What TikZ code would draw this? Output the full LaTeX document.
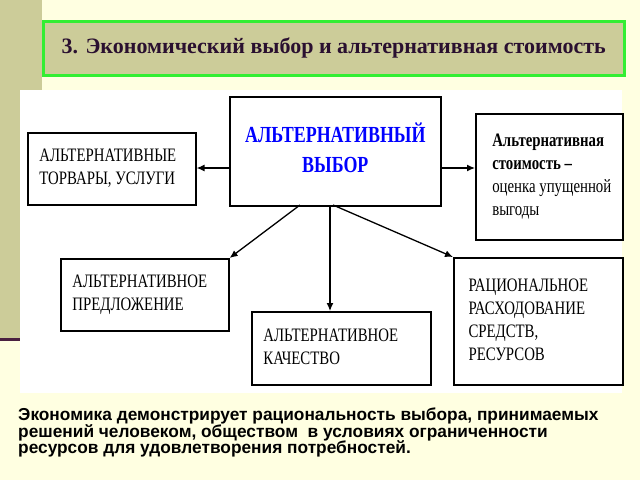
\documentclass[tikz,border=0pt]{standalone}
\usepackage{fontspec}
\setmainfont{Liberation Serif}
\setsansfont{Liberation Sans}
\newfontfamily\narrowserif[FakeStretch=0.78]{Liberation Serif}
\usetikzlibrary{arrows.meta}
\definecolor{cream}{HTML}{FFFFE1}
\definecolor{khaki}{HTML}{CCCC99}
\definecolor{titlegreen}{HTML}{33EE33}
\definecolor{titletext}{HTML}{2A1030}
\definecolor{stripe}{HTML}{4A2040}
\begin{document}
\begin{tikzpicture}[
    x=1pt, y=-1pt,
    arr/.style={line width=1.3pt, black, -{Latex[length=8pt,width=7pt]}},
    box/.style={draw=black, line width=1.6pt, fill=white, anchor=north west, inner sep=0pt,
        font=\narrowserif\fontsize{19}{23}\selectfont, align=left},
  ]
  \useasboundingbox (0,0) rectangle (640,480);
  \fill[cream] (0,0) rectangle (640,480);
  \fill[khaki] (0,0) rectangle (42,338);
  \fill[stripe] (0,338) rectangle (20,341);
  \node[draw=titlegreen, line width=2.5pt, fill=khaki, anchor=north west,
      minimum width=581pt, minimum height=54pt,
      font=\bfseries\fontsize{22}{26}\selectfont, text=titletext] (title) at (42,20)
      {3. Экономический выбор и альтернативная стоимость};
  \fill[white] (20,90) rectangle (622,393);

  \node[box, minimum width=211pt, minimum height=109pt, align=center,
      text=blue, font=\narrowserif\bfseries\fontsize{23}{30}\selectfont] (choice) at (229,96)
      {\raisebox{20pt}{\begin{tabular}{@{}c@{}}АЛЬТЕРНАТИВНЫЙ\\ВЫБОР\end{tabular}}};
  \node[box, minimum width=168pt, minimum height=72pt] (goods) at (27,132)
      {\hspace*{8pt}\begin{tabular}{@{}l@{}}АЛЬТЕРНАТИВНЫЕ\\ТОРВАРЫ, УСЛУГИ\end{tabular}\hspace*{16pt}};
  \node[box, minimum width=147pt, minimum height=126pt] (cost) at (475,113)
      {\hspace*{9pt}\begin{tabular}{@{}l@{}}\textbf{Альтернативная}\\\textbf{стоимость –}\\оценка упущенной\\выгоды\end{tabular}\hspace*{4pt}};
  \node[box, minimum width=168pt, minimum height=72pt] (offer) at (60,258)
      {\hspace*{8pt}\begin{tabular}{@{}l@{}}АЛЬТЕРНАТИВНОЕ\\ПРЕДЛОЖЕНИЕ\end{tabular}\hspace*{18pt}};
  \node[box, minimum width=179pt, minimum height=73pt] (quality) at (251,311)
      {\hspace*{9pt}\begin{tabular}{@{}l@{}}АЛЬТЕРНАТИВНОЕ\\КАЧЕСТВО\end{tabular}\hspace*{30pt}};
  \node[box, minimum width=169pt, minimum height=127pt] (spend) at (453,257)
      {\hspace*{8pt}\begin{tabular}{@{}l@{}}РАЦИОНАЛЬНОЕ\\РАСХОДОВАНИЕ\\СРЕДСТВ,\\РЕСУРСОВ\end{tabular}\hspace*{28pt}};

  \draw[arr] (choice.west |- 0,168) -- (goods.east |- 0,168);
  \draw[arr] (choice.east |- 0,168) -- (cost.west |- 0,168);
  \draw[arr] (330,205) -- (quality.north -| 330,0);
  \draw[arr] (300,205) -- (offer.north east);
  \draw[arr] (333,205) -- (spend.north west);

  \node[anchor=north west, align=left, inner sep=0pt,
      font=\sffamily\bfseries\fontsize{17.3}{16.5}\selectfont] (note) at (18,408)
      {Экономика демонстрирует рациональность выбора, принимаемых\\
       решений человеком, обществом \ в условиях ограниченности\\
       ресурсов для удовлетворения потребностей.};
\end{tikzpicture}
\end{document}
